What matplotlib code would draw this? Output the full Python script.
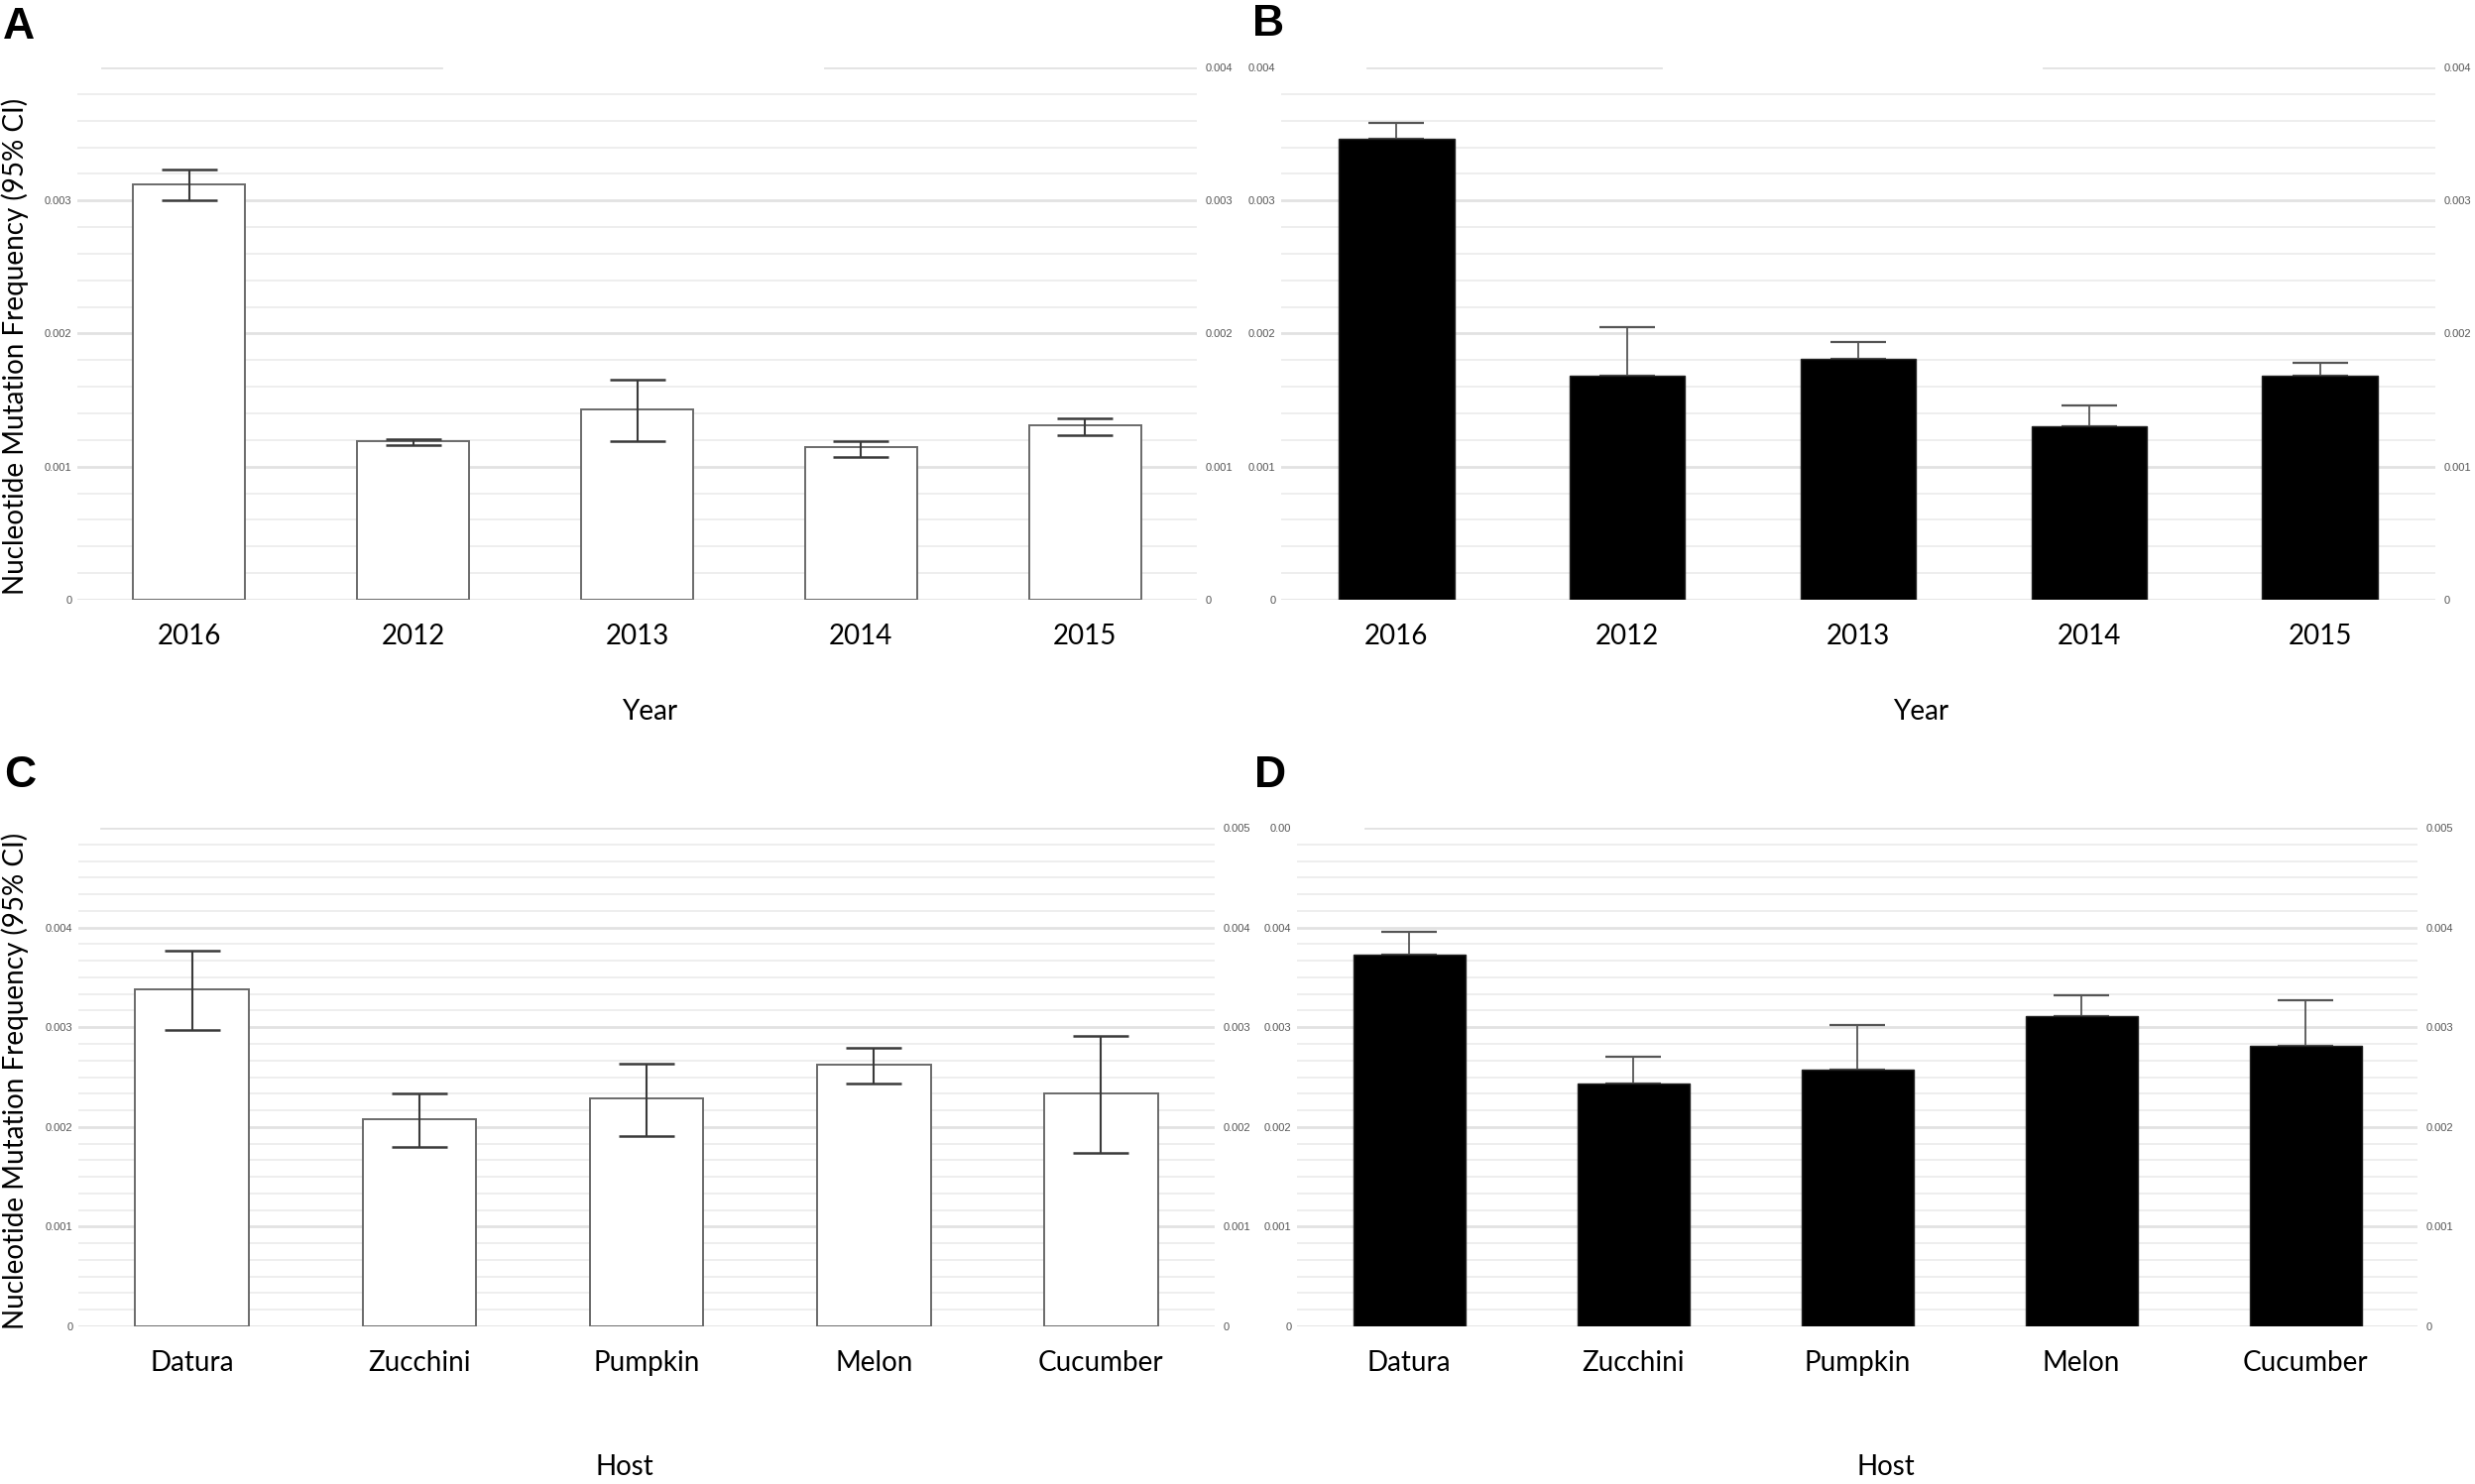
import numpy as np
import matplotlib
matplotlib.use("Agg")
import matplotlib.pyplot as plt

# categories
years = ["2016", "2012", "2013", "2014", "2015"]
hosts = ["Datura", "Zucchini", "Pumpkin", "Melon", "Cucumber"]

# A: mutation frequency per year, 95% CI (white bars)
a_mean = [0.00312, 0.00119, 0.00143, 0.00115, 0.00131]
a_low = [0.00300, 0.00116, 0.00119, 0.00107, 0.00124]
a_high = [0.00323, 0.00121, 0.00165, 0.00119, 0.00136]

# B: per year (black bars), only upper CI visible
b_mean = [0.00346, 0.00168, 0.00181, 0.00130, 0.00168]
b_high = [0.00358, 0.00205, 0.00194, 0.00146, 0.00178]

# C: per host (white bars)
c_mean = [0.00338, 0.00208, 0.00229, 0.00262, 0.00234]
c_low = [0.00297, 0.00180, 0.00191, 0.00244, 0.00174]
c_high = [0.00377, 0.00234, 0.00263, 0.00279, 0.00291]

# D: per host (black bars)
d_mean = [0.00373, 0.00244, 0.00257, 0.00311, 0.00281]
d_high = [0.00396, 0.00270, 0.00302, 0.00332, 0.00327]

# y tick values / labels
ticks4 = [0, 0.001, 0.002, 0.003, 0.004]
ticks5 = [0, 0.001, 0.002, 0.003, 0.004, 0.005]
labels4 = ["0", "0.001", "0.002", "0.003", "0.004"]
labels5 = ["0", "0.001", "0.002", "0.003", "0.004", "0.005"]

W, H = 2496, 1497
BIG = "Lato"
SMALL = "Liberation Sans"
MAJ_C = "#e2e2e2"
MIN_C = "#eeeeee"


def rect(l, t, r, b):
    return [l / W, 1 - b / H, (r - l) / W, (b - t) / H]


def draw_panel(ax, cats, mean, low, high, filled, ymax, nminor,
               left_ticks, left_labels, right_ticks, right_labels, top_segs):
    x = np.arange(len(cats))
    mean = np.array(mean)
    high = np.array(high)

    # gridlines
    step = 0.001 / nminor
    for v in np.arange(0, ymax, step):
        if abs(v / 0.001 - round(v / 0.001)) < 1e-6:
            ax.axhline(v, color=MAJ_C, lw=2, zorder=0)
        else:
            ax.axhline(v, color=MIN_C, lw=1.4, zorder=0)
    for x0, x1 in top_segs:
        ax.axhline(ymax, xmin=x0, xmax=x1, color=MAJ_C, lw=2, zorder=0)

    if filled:
        ax.bar(x, mean, width=0.5, color="black", edgecolor="#222222",
               lw=1, zorder=2)
        err = [np.zeros(len(mean)), high - mean]
        ax.errorbar(x, mean, yerr=err, fmt="none", ecolor="#555555",
                    elinewidth=1.3, capsize=20, capthick=1.6, zorder=1.5)
    else:
        ax.bar(x, mean, width=0.5, color="white", edgecolor="#6a6a6a",
               lw=1.4, zorder=2)
        err = [mean - np.array(low), high - mean]
        ax.errorbar(x, mean, yerr=err, fmt="none", ecolor="#3a3a3a",
                    elinewidth=1.5, capsize=20, capthick=1.8, zorder=3)

    ax.set_xlim(-0.5, len(cats) - 0.5)
    ax.set_ylim(0, ymax)
    ax.set_xticks(x, cats, fontsize=20, family=BIG)
    ax.set_yticks(left_ticks, left_labels, fontsize=8, family=SMALL,
                  color="#555555")
    ax.tick_params(axis="x", length=0, pad=17)
    ax.tick_params(axis="y", length=0, pad=4)
    for s in ax.spines.values():
        s.set_visible(False)

    tw = ax.twinx()
    tw.set_ylim(0, ymax)
    tw.set_yticks(right_ticks, right_labels, fontsize=8, family=SMALL,
                  color="#555555")
    tw.tick_params(axis="y", length=0, pad=6)
    for s in tw.spines.values():
        s.set_visible(False)


fig = plt.figure(figsize=(W / 100, H / 100), dpi=100)

axA = fig.add_axes(rect(78, 68, 1207, 605))
draw_panel(axA, years, a_mean, a_low, a_high, False, 0.004, 5,
           ticks4[:4], labels4[:4], ticks4, labels4,
           [(0.022, 0.325), (0.668, 1.0)])

axB = fig.add_axes(rect(1292, 68, 2456, 605))
draw_panel(axB, years, b_mean, None, b_high, True, 0.004, 5,
           ticks4, labels4, ticks4, labels4,
           [(0.075, 0.329), (0.661, 1.0)])

axC = fig.add_axes(rect(79, 835, 1225, 1338))
draw_panel(axC, hosts, c_mean, c_low, c_high, False, 0.005, 6,
           ticks4, labels4, ticks5, labels5,
           [(0.02, 1.0)])

axD = fig.add_axes(rect(1308, 835, 2438, 1338))
draw_panel(axD, hosts, d_mean, None, d_high, True, 0.005, 6,
           ticks5, labels4 + ["0.00"], ticks5, labels5,
           [(0.061, 1.0)])

# axis titles
ylab = "Nucleotide Mutation Frequency (95% CI)"
fig.text(15 / W, 1 - 349 / H, ylab, rotation=90, ha="center", va="center",
         fontsize=20, family=BIG)
fig.text(15 / W, 1 - 1090 / H, ylab, rotation=90, ha="center", va="center",
         fontsize=20, family=BIG)
fig.text(655 / W, 1 - 718 / H, "Year", ha="center", va="center",
         fontsize=20, family=BIG)
fig.text(1937 / W, 1 - 718 / H, "Year", ha="center", va="center",
         fontsize=20, family=BIG)
fig.text(630 / W, 1 - 1480 / H, "Host", ha="center", va="center",
         fontsize=20, family=BIG)
fig.text(1902 / W, 1 - 1480 / H, "Host", ha="center", va="center",
         fontsize=20, family=BIG)

# panel letters
for letter, px, py in [("A", 3, 7), ("B", 1263, 4), ("C", 4, 762), ("D", 1265, 762)]:
    fig.text(px / W, 1 - py / H, letter, ha="left", va="top", fontsize=32,
             fontweight="bold", family=SMALL)

fig.savefig("out.png", dpi=100)
